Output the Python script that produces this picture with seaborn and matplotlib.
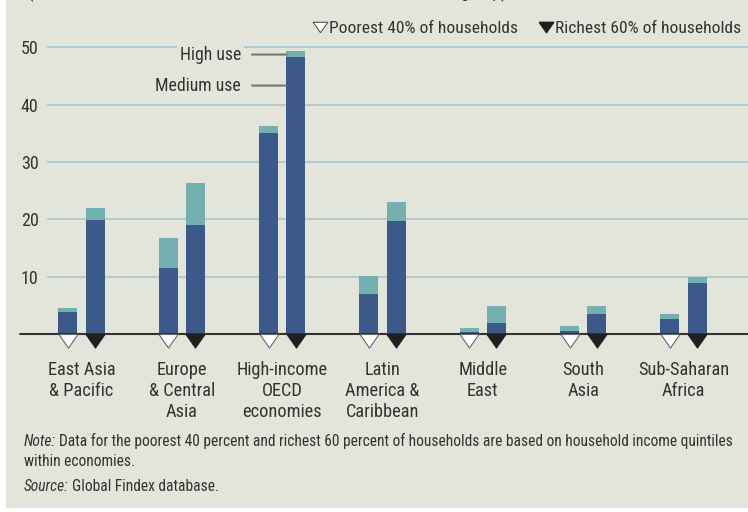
import matplotlib
matplotlib.use("Agg")
import matplotlib.pyplot as plt
from matplotlib.lines import Line2D
from matplotlib.patches import Rectangle
from matplotlib import font_manager as fm
import seaborn as sns
import pandas as pd
import numpy as np

# ---- data ----
regions = ["East Asia\n& Pacific", "Europe\n& Central\nAsia", "High-income\nOECD\neconomies",
           "Latin\nAmerica &\nCaribbean", "Middle\nEast", "South\nAsia", "Sub-Saharan\nAfrica"]
groups = ["Poorest 40% of households", "Richest 60% of households"]
poorest_medium = [3.9, 11.5, 35.0, 7.0, 0.4, 0.6, 2.7]
poorest_total = [4.6, 16.8, 36.3, 10.1, 1.1, 1.4, 3.5]
richest_medium = [19.9, 19.0, 48.3, 19.7, 2.0, 3.5, 9.0]
richest_total = [22.0, 26.3, 49.3, 23.0, 4.9, 4.9, 10.0]
yticks = [10, 20, 30, 40, 50]

BG = "#E4E5DA"
DARK = "#3B5A89"
TEAL = "#73B0AF"
GRID = "#A9C6D2"

sns.set_theme(style="white")

# pick a condensed font if one is available
fam = "DejaVu Sans"
names = {e.name for e in fm.fontManager.ttflist}
for cand in ["Roboto Condensed", "Liberation Sans Narrow", "Open Sans Condensed",
             "DejaVu Sans Condensed"]:
    if cand in names:
        fam = cand
        break
FONT = [fam, "DejaVu Sans"]
plt.rcParams["font.family"] = FONT
plt.rcParams["text.color"] = "#333333"
k = 1.0 if fam != "DejaVu Sans" else 0.85

df = pd.DataFrame({
    "region": regions * 2,
    "group": [groups[0]] * len(regions) + [groups[1]] * len(regions),
    "medium": poorest_medium + richest_medium,
    "total": poorest_total + richest_total,
})

W, H = 748, 512
fig = plt.figure(figsize=(W / 100, H / 100), dpi=100, facecolor="white")
fig.patches.append(Rectangle((6 / W, 4 / H), 1 - 6 / W, 1 - 4 / H, transform=fig.transFigure,
                             facecolor=BG, edgecolor="none", zorder=-10))

ax_left = 47 / W
ax_bottom = (H - 334.3) / H
ax_top = (H - 35.6) / H
ax = fig.add_axes([ax_left, ax_bottom, 1 - ax_left, ax_top - ax_bottom])
ax.set_facecolor("none")

pal = {groups[0]: TEAL, groups[1]: TEAL}
sns.barplot(data=df, x="region", y="total", hue="group", order=regions, hue_order=groups,
            palette=pal, width=0.54, gap=0.3, dodge=True, legend=False, ax=ax,
            saturation=1, linewidth=0, zorder=3)
pal2 = {groups[0]: DARK, groups[1]: DARK}
sns.barplot(data=df, x="region", y="medium", hue="group", order=regions, hue_order=groups,
            palette=pal2, width=0.54, gap=0.3, dodge=True, legend=False, ax=ax,
            saturation=1, linewidth=0, zorder=4)

ax.set_xlim(-0.344, 6.643)
ax.set_ylim(0, 52)
ax.set_yticks(yticks)
ax.set_yticklabels([str(v) for v in yticks])
for v in yticks:
    ax.axhline(v, color=GRID, lw=1.2, zorder=1)
for s in ax.spines.values():
    s.set_visible(False)
ax.plot([-0.61, 6.643], [0, 0], color="#333333", lw=1.5, clip_on=False, zorder=6)

ax.tick_params(axis="y", length=0, pad=6, labelsize=13 * k, labelcolor="#333333")
ax.tick_params(axis="x", length=0, pad=19, labelsize=13.2 * k, labelcolor="#333333")
for lab in ax.get_xticklabels():
    lab.set_linespacing(1.22)
ax.set_xlabel("")
ax.set_ylabel("")

# triangle markers below bars
tri = [(-0.7, 0), (0.7, 0), (0, -1), (-0.7, 0)]
xpos = np.arange(len(regions))
off = 0.135
ax.scatter(xpos - off, np.zeros(len(regions)), marker=tri, s=19.5 ** 2, facecolor="white",
           edgecolor="#666666", linewidth=0.8, clip_on=False, zorder=7)
ax.scatter(xpos + off, np.zeros(len(regions)), marker=tri, s=19.5 ** 2, facecolor="#231F20",
           edgecolor="#231F20", linewidth=0.8, clip_on=False, zorder=7)

# annotations High use / Medium use
bar_left = 2 + off - 0.095
for label, yv in [("High use", 48.7), ("Medium use", 43.3)]:
    ax.annotate(label, xy=(bar_left, yv), xytext=(bar_left - 0.45, yv),
                textcoords="data", ha="right", va="center", fontsize=12.8 * k, color="#333333",
                bbox=dict(boxstyle="square,pad=0.15", facecolor=BG, edgecolor="none"),
                arrowprops=dict(arrowstyle="-", color="#777777", lw=1.5,
                                shrinkA=6, shrinkB=0), zorder=8)

# legend
tri_c = [(-0.7, 0.5), (0.7, 0.5), (0, -0.5), (-0.7, 0.5)]
handles = [Line2D([], [], marker=tri_c, markersize=10.5, linestyle="none",
                  markerfacecolor="white", markeredgecolor="#555555", markeredgewidth=0.8),
           Line2D([], [], marker=tri_c, markersize=10.5, linestyle="none",
                  markerfacecolor="#231F20", markeredgecolor="#231F20")]
fig.legend(handles, groups, loc="center right", bbox_to_anchor=(1.003, 1 - 28 / H), ncol=2,
           frameon=False, fontsize=12.6 * k, handlelength=0.8, handletextpad=0.12,
           columnspacing=1.2, borderaxespad=0.1, labelcolor="#333333")

# partially clipped title line at top
fig.text(28 / W, 1 + 1.5 / H,
         "(% of adults with an account in the relevant household income group),",
         fontsize=12.6 * k, va="baseline", ha="left", color="#333333")

# notes
fig.canvas.draw()
r = fig.canvas.get_renderer()
ns = 11.2 * k
t1 = fig.text(24 / W, 1 - 446 / H, "Note:", style="italic", fontsize=ns, va="baseline",
              color="#333333")
bb = t1.get_window_extent(r)
fig.text((bb.x1 + 3) / W, 1 - 446 / H,
         "Data for the poorest 40 percent and richest 60 percent of households are based on household income quintiles",
         fontsize=ns, va="baseline", color="#333333")
fig.text(24 / W, 1 - 466 / H, "within economies.", fontsize=ns, va="baseline", color="#333333")
t2 = fig.text(24 / W, 1 - 491 / H, "Source:", style="italic", fontsize=ns, va="baseline",
              color="#333333")
bb2 = t2.get_window_extent(r)
fig.text((bb2.x1 + 3) / W, 1 - 491 / H, "Global Findex database.", fontsize=ns, va="baseline",
         color="#333333")

fig.savefig("out.png", dpi=100, facecolor="white")
